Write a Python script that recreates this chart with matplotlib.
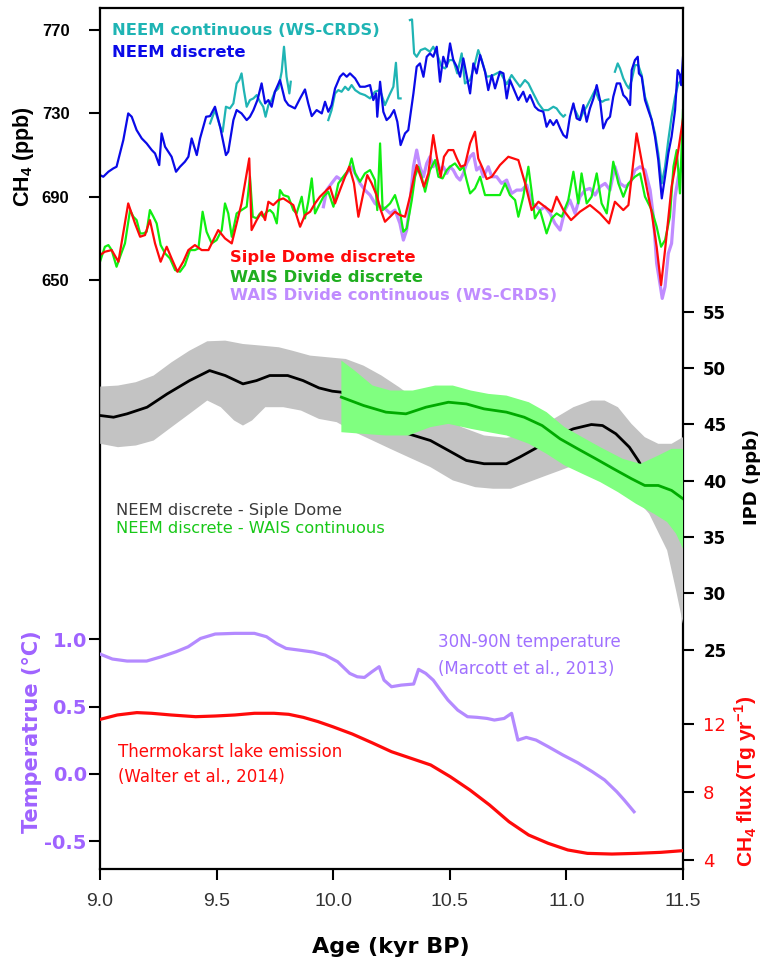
import numpy as np
import matplotlib
matplotlib.use("Agg")
import matplotlib.pyplot as plt
from matplotlib import font_manager

# fonts: a narrow bold face for the CH4 ticks if it exists
_names = {f.name for f in font_manager.fontManager.ttflist}
HAS_NARROW = "Liberation Sans Narrow" in _names
NARROW = "Liberation Sans Narrow" if HAS_NARROW else "Liberation Sans"

plt.rcParams["font.family"] = "DejaVu Sans"
plt.rcParams["mathtext.fontset"] = "custom"
plt.rcParams["mathtext.rm"] = "Liberation Sans"
plt.rcParams["mathtext.bf"] = "Liberation Sans:bold"

nan = np.nan

# ---------------- CH4 records (ppb) ----------------
neem_disc_age = [
    9.000, 9.014, 9.036, 9.057, 9.071, 9.100, 9.121, 9.136, 9.157, 9.179, 9.200, 9.222, 9.236, 9.254,
    9.264, 9.279, 9.293, 9.307, 9.326, 9.343, 9.364, 9.379, 9.393, 9.415, 9.429, 9.455, 9.472, 9.493,
    9.515, 9.540, 9.550, 9.572, 9.586, 9.607, 9.629, 9.643, 9.658, 9.675, 9.693, 9.708, 9.722, 9.736,
    9.750, 9.772, 9.793, 9.808, 9.836, 9.858, 9.879, 9.893, 9.908, 9.929, 9.951, 9.965, 9.979, 9.993,
    10.008, 10.029, 10.043, 10.058, 10.072, 10.094, 10.115, 10.136, 10.158, 10.172, 10.184, 10.189,
    10.201, 10.215, 10.229, 10.244, 10.261, 10.275, 10.289, 10.308, 10.322, 10.344, 10.358, 10.372,
    10.387, 10.401, 10.415, 10.429, 10.444, 10.458, 10.472, 10.487, 10.501, 10.515, 10.530, 10.544,
    10.558, 10.572, 10.587, 10.601, 10.615, 10.630, 10.651, 10.665, 10.680, 10.694, 10.715, 10.730,
    10.744, 10.758, 10.773, 10.794, 10.815, 10.830, 10.844, 10.865, 10.880, 10.901, 10.915, 10.930,
    10.944, 10.958, 10.973, 10.987, 11.001, 11.015, 11.030, 11.044, 11.058, 11.073, 11.087, 11.101,
    11.116, 11.130, 11.144, 11.158, 11.173, 11.187, 11.201, 11.216, 11.230, 11.244, 11.258, 11.273,
    11.280, 11.294, 11.306, 11.311, 11.323, 11.337, 11.351, 11.366, 11.380, 11.394, 11.409, 11.423,
    11.437, 11.451, 11.466, 11.477, 11.487, 11.492, 11.500,
]
neem_disc_ch4 = [
    700.4, 699.6, 702.0, 703.6, 704.4, 717.2, 730.0, 728.4, 722.0, 718.0, 715.6, 712.4, 710.8, 705.2,
    720.4, 714.0, 711.6, 709.2, 702.0, 704.4, 706.8, 709.2, 718.0, 710.0, 718.0, 728.4, 728.7, 733.2,
    723.6, 710.0, 711.6, 726.8, 731.6, 730.0, 726.8, 728.4, 731.6, 736.4, 744.4, 734.8, 736.4, 733.2,
    740.4, 746.0, 736.4, 734.0, 732.4, 737.2, 741.5, 734.8, 728.7, 731.6, 730.0, 735.6, 730.8, 734.0,
    742.0, 747.6, 749.2, 747.6, 749.2, 746.8, 742.8, 742.8, 743.6, 736.4, 739.6, 728.4,
    745.2, 730.8, 726.8, 728.4, 731.6, 726.0, 714.8, 720.4, 722.0, 739.6, 752.4, 754.0,
    747.6, 757.2, 758.8, 757.2, 762.0, 745.2, 757.2, 752.4, 763.6, 755.6, 752.4, 747.6,
    756.4, 748.4, 739.6, 754.0, 749.2, 758.0, 750.0, 741.2, 748.4, 742.0, 750.0, 749.2,
    737.2, 746.0, 742.0, 736.4, 740.4, 735.6, 738.8, 733.2, 731.6, 730.8, 723.6, 726.8,
    724.4, 726.8, 722.8, 719.6, 718.3, 728.4, 734.8, 727.6, 726.8, 734.0, 726.0, 732.4,
    737.2, 743.6, 736.4, 722.8, 726.8, 728.4, 738.0, 744.4, 744.4, 738.8, 737.2, 734.0,
    750.8, 755.6, 757.2, 749.2, 747.6, 736.4, 731.6, 726.8, 718.8, 707.6, 689.2, 699.6,
    710.8, 718.8, 731.6, 750.8, 748.4, 743.6, 757.0,
]

# continuous NEEM record, nan marks gaps in the record
neem_cont_age = [
    9.472, 9.493, 9.515, 9.526, 9.540, 9.557, 9.572, 9.586, 9.597, 9.607, 9.617, 9.629, 9.643, 9.658,
    9.672, 9.686, 9.700, 9.710, 9.722, 9.736, 9.750, 9.765, 9.779, 9.789, 9.800, 9.812, 9.818, 9.900,
    9.979, 9.993, 10.008, 10.022, 10.036, 10.051, 10.065, 10.079, 10.094, 10.115, 10.136, 10.158,
    10.179, 10.201, 10.222, 10.241, 10.258, 10.269, 10.279, 10.289, 10.310,
    10.329, 10.338, 10.347, 10.358, 10.375, 10.394, 10.415, 10.429, 10.447, 10.465, 10.480, 10.498,
    10.515, 10.532, 10.551, 10.565, 10.587, 10.608, 10.622, 10.637, 10.658, 10.680, 10.715, 10.744,
    10.765, 10.780, 10.801, 10.822, 10.837, 10.858, 10.880, 10.901, 10.922, 10.944, 10.958, 10.973,
    10.987, 10.994, 11.015,
    11.037, 11.058, 11.073, 11.087, 11.105, 11.123, 11.140, 11.154, 11.166, 11.180, 11.194,
    11.208, 11.220, 11.230, 11.244, 11.258, 11.268, 11.280, 11.294, 11.308, 11.323, 11.337, 11.351,
    11.366, 11.380, 11.394, 11.409, 11.423, 11.437, 11.451, 11.466, 11.480, 11.494, 11.500,
]
neem_cont_ch4 = [
    725.2, 731.6, 723.6, 721.2, 733.2, 732.4, 734.8, 744.4, 746.0, 749.2, 741.2, 733.2, 736.4, 737.2,
    738.8, 735.6, 733.2, 728.4, 734.0, 736.4, 740.4, 742.0, 750.0, 762.0, 747.6, 739.6, 745.2, nan,
    726.8, 731.6, 739.6, 741.2, 740.4, 742.8, 741.2, 743.6, 741.2, 739.6, 738.8, 737.2,
    740.4, 741.2, 734.0, 738.8, 742.8, 754.3, 737.2, 737.2, nan,
    774.8, 775.1, 758.8, 757.2, 760.4, 761.2, 759.6, 762.0, 758.0, 752.4, 751.6, 755.6,
    755.6, 749.2, 758.8, 744.4, 746.0, 754.0, 760.4, 755.6, 747.6, 748.0, 750.0, 744.0,
    748.4, 746.0, 742.8, 746.0, 744.4, 739.6, 734.8, 731.6, 731.6, 733.2, 732.4, 730.0,
    728.4, 729.2, nan,
    731.6, 726.8, 730.8, 733.2, 737.2, 741.2, 736.4, 735.6, 736.4, 736.7, nan,
    750.0, 754.0, 751.6, 746.8, 743.6, 742.0, 746.0, 753.2, 753.2, 748.4, 738.0, 733.2,
    726.8, 720.4, 710.8, 696.4, 704.4, 717.2, 728.4, 738.0, 744.4, 746.0, 742.8,
]

siple_age = [
    9.000, 9.021, 9.050, 9.079, 9.121, 9.150, 9.172, 9.193, 9.214, 9.236, 9.260, 9.286, 9.307, 9.332,
    9.357, 9.379, 9.407, 9.436, 9.465, 9.486, 9.507, 9.536, 9.565, 9.586, 9.607, 9.640, 9.650, 9.672,
    9.693, 9.708, 9.722, 9.743, 9.765, 9.786, 9.808, 9.829, 9.858, 9.879, 9.901, 9.922, 9.943, 9.965,
    9.986, 10.008, 10.029, 10.051, 10.069, 10.089, 10.108, 10.129, 10.146, 10.165, 10.186, 10.204,
    10.222, 10.244, 10.265, 10.286, 10.308, 10.329, 10.347, 10.358, 10.375, 10.389, 10.408, 10.429,
    10.444, 10.461, 10.475, 10.494, 10.515, 10.530, 10.547, 10.565, 10.587, 10.608, 10.622, 10.641,
    10.658, 10.680, 10.715, 10.751, 10.794, 10.823, 10.851, 10.880, 10.908, 10.937, 10.958, 10.987,
    11.020, 11.058, 11.101, 11.144, 11.183, 11.208, 11.244, 11.266, 11.301, 11.330, 11.366, 11.387,
    11.406, 11.423, 11.451, 11.480, 11.500,
]
siple_ch4 = [
    662.0, 663.6, 664.4, 658.8, 686.8, 677.2, 670.8, 671.6, 678.8, 667.6, 658.8, 666.0, 660.4, 654.0,
    658.8, 664.4, 666.8, 664.4, 664.4, 669.2, 674.0, 670.0, 667.6, 677.2, 686.8, 708.4, 674.0, 678.8,
    682.8, 678.8, 687.6, 686.0, 688.4, 689.2, 687.6, 686.0, 675.6, 681.2, 682.8, 686.8, 690.0, 692.4,
    694.8, 686.8, 693.2, 699.6, 704.4, 696.4, 680.4, 691.6, 700.4, 696.4, 690.8, 683.6,
    678.0, 680.4, 682.8, 681.2, 680.4, 690.0, 699.6, 705.2, 699.6, 694.8, 701.2, 719.6,
    709.2, 699.6, 709.2, 712.4, 712.4, 708.4, 704.4, 705.2, 715.6, 721.2, 708.4, 703.6,
    698.5, 699.6, 705.2, 709.2, 707.6, 696.4, 683.6, 687.6, 685.2, 682.8, 690.0, 683.6,
    678.8, 682.8, 686.0, 682.0, 677.2, 687.6, 683.6, 686.0, 720.4, 702.8, 682.0, 666.0,
    647.6, 664.4, 694.8, 712.4, 727.5,
]

wais_disc_age = [
    9.000, 9.021, 9.036, 9.050, 9.071, 9.086, 9.107, 9.129, 9.143, 9.157, 9.172, 9.186, 9.200, 9.214,
    9.229, 9.243, 9.260, 9.279, 9.300, 9.322, 9.343, 9.364, 9.386, 9.407, 9.422, 9.440, 9.457, 9.479,
    9.500, 9.522, 9.536, 9.550, 9.565, 9.586, 9.607, 9.629, 9.643, 9.655, 9.672, 9.686, 9.700, 9.715,
    9.729, 9.743, 9.758, 9.772, 9.786, 9.808, 9.829, 9.843, 9.865, 9.879, 9.893, 9.908, 9.922, 9.936,
    9.958, 9.979, 10.001, 10.022, 10.043, 10.065, 10.079, 10.094, 10.115, 10.136, 10.158, 10.179,
    10.189, 10.201, 10.212, 10.229, 10.244, 10.265, 10.286, 10.301, 10.315, 10.327, 10.337, 10.351,
    10.365, 10.379, 10.394, 10.415, 10.437, 10.451, 10.469, 10.487, 10.501, 10.522, 10.544, 10.558,
    10.572, 10.587, 10.608, 10.630, 10.651, 10.680, 10.715, 10.737, 10.758, 10.780, 10.794, 10.815,
    10.837, 10.851, 10.865, 10.887, 10.915, 10.937, 10.958, 10.980, 11.008, 11.030, 11.051, 11.065,
    11.087, 11.108, 11.130, 11.151, 11.173, 11.201, 11.223, 11.244, 11.266, 11.294, 11.316, 11.337,
    11.366, 11.387, 11.406, 11.423, 11.444, 11.459, 11.473, 11.487, 11.500,
]
wais_disc_ch4 = [
    658.8, 666.0, 666.8, 664.4, 656.4, 661.2, 667.6, 683.6, 680.4, 678.8, 672.4, 672.4, 673.2, 683.6,
    680.4, 677.2, 666.8, 662.8, 660.4, 654.8, 654.0, 657.2, 664.4, 664.4, 665.2, 682.8, 673.2, 667.6,
    669.2, 674.0, 686.8, 682.0, 670.8, 682.0, 683.6, 685.2, 699.6, 680.4, 679.6, 682.0, 680.4, 682.8,
    683.6, 682.0, 677.2, 693.2, 690.8, 690.0, 683.6, 682.0, 690.0, 679.6, 687.6, 698.8, 682.0, 685.2,
    690.0, 692.4, 685.2, 696.4, 699.6, 702.8, 708.4, 701.2, 697.2, 701.2, 702.8, 698.0,
    683.6, 715.6, 683.6, 685.2, 686.8, 690.8, 682.8, 673.2, 674.8, 682.0, 688.4, 699.6,
    704.4, 699.6, 692.4, 702.8, 707.6, 699.6, 698.8, 702.8, 704.4, 706.0, 702.8, 704.4,
    698.0, 691.6, 694.0, 699.6, 690.8, 690.8, 690.8, 696.4, 690.8, 688.4, 680.4, 690.0,
    704.4, 692.4, 679.6, 683.6, 672.4, 679.6, 682.0, 680.4, 688.4, 702.0, 686.8, 701.2,
    686.8, 690.0, 701.2, 686.8, 682.0, 706.8, 696.4, 690.0, 696.4, 699.6, 701.2, 690.0,
    683.6, 675.6, 666.0, 669.2, 680.4, 704.4, 712.4, 691.6, 731.6,
]

wais_cont_age = [
    9.958, 9.972, 9.993, 10.015, 10.036, 10.058, 10.079, 10.094, 10.115, 10.136, 10.158, 10.179,
    10.201, 10.222, 10.244, 10.265, 10.286, 10.301, 10.315, 10.329, 10.344, 10.358, 10.372, 10.387,
    10.401, 10.415, 10.429, 10.444, 10.458, 10.472, 10.487, 10.501, 10.515, 10.530, 10.544, 10.558,
    10.572, 10.587, 10.601, 10.615, 10.630, 10.644, 10.665, 10.680, 10.701, 10.722, 10.744, 10.765,
    10.787, 10.808, 10.830, 10.851, 10.865, 10.887, 10.908, 10.930, 10.951, 10.973, 10.994, 11.015,
    11.037, 11.058, 11.080, 11.101, 11.123, 11.144, 11.166, 11.187, 11.208, 11.230, 11.251, 11.273,
    11.294, 11.316, 11.337, 11.359, 11.373, 11.387, 11.401, 11.411, 11.423, 11.437, 11.451, 11.466,
    11.480, 11.494, 11.500,
]
wais_cont_ch4 = [
    685.2, 693.2, 696.4, 699.6, 698.0, 701.2, 704.4, 701.2, 696.4, 693.2, 690.8, 686.8,
    685.2, 684.4, 682.0, 683.6, 677.2, 669.2, 674.0, 686.8, 704.4, 712.4, 704.4, 699.6,
    706.0, 709.2, 704.4, 707.6, 702.8, 704.4, 701.2, 704.4, 702.8, 699.6, 698.0, 701.2,
    706.0, 709.2, 710.8, 702.8, 704.4, 699.6, 704.4, 699.6, 699.6, 696.4, 698.0, 691.6,
    693.2, 693.2, 695.6, 686.8, 686.0, 683.6, 685.2, 682.0, 677.2, 674.0, 683.6, 688.4,
    682.0, 690.0, 693.2, 694.0, 690.8, 694.8, 696.4, 693.2, 704.4, 696.4, 694.8, 696.4,
    702.8, 704.4, 702.8, 693.2, 680.4, 658.0, 648.4, 641.2, 646.8, 662.8, 667.6, 690.0,
    699.6, 704.4, 702.8,
]

# ---------------- IPD (ppb) ----------------
ipd_sd_age = [
    9.001, 9.058, 9.116, 9.202, 9.288, 9.384, 9.470, 9.537, 9.613, 9.671, 9.728, 9.805, 9.871, 9.939,
    9.996, 10.035, 10.10, 10.20, 10.27, 10.322, 10.417, 10.494, 10.571, 10.647, 10.743, 10.800, 10.877,
    10.95, 11.030, 11.107, 11.155, 11.212, 11.270, 11.308, 11.40, 11.50,
]
ipd_sd = [
    45.78, 45.63, 45.93, 46.52, 47.70, 48.88, 49.77, 49.33, 48.59, 48.88, 49.33, 49.33, 48.88, 48.23,
    47.94, 47.85, 47.0, 45.8, 44.8, 44.16, 43.56, 42.68, 41.79, 41.50, 41.50, 42.09, 42.97,
    43.9, 44.60, 44.98, 44.89, 44.16, 42.97, 41.79, 38.5, 35.5,
]
ipd_sd_hi_age = [
    9.001, 9.077, 9.154, 9.230, 9.307, 9.384, 9.460, 9.537, 9.613, 9.690, 9.767, 9.824, 9.901, 9.977,
    10.054, 10.130, 10.207, 10.283, 10.360, 10.456, 10.551, 10.647, 10.743, 10.839, 10.934, 11.030,
    11.107, 11.164, 11.221, 11.279, 11.336, 11.394, 11.451, 11.500,
]
ipd_sd_hi = [
    48.35, 48.44, 48.74, 49.33, 50.51, 51.54, 52.37, 52.43, 52.13, 51.99, 51.84, 51.54, 51.10, 50.95,
    50.80, 50.21, 49.33, 48.29, 47.11, 45.93, 44.75, 44.01, 43.80, 44.15, 45.34, 46.52,
    47.11, 47.11, 46.52, 45.04, 43.86, 43.27, 43.27, 43.86,
]
ipd_sd_lo_age = [
    9.001, 9.077, 9.154, 9.230, 9.307, 9.384, 9.460, 9.518, 9.575, 9.613, 9.652, 9.709, 9.786, 9.862,
    9.939, 10.015, 10.092, 10.169, 10.245, 10.322, 10.417, 10.513, 10.609, 10.685, 10.762, 10.839,
    10.915, 10.973, 11.049, 11.126, 11.202, 11.279, 11.355, 11.432, 11.470, 11.500,
]
ipd_sd_lo = [
    43.27, 42.97, 43.12, 43.56, 44.75, 45.93, 47.11, 46.52, 45.34, 44.89, 45.34, 46.52, 46.52, 46.22,
    45.48, 45.19, 44.30, 43.56, 42.82, 42.09, 41.20, 40.02, 39.42, 39.28, 39.28, 39.87,
    40.46, 40.90, 41.49, 41.49, 40.61, 38.84, 37.06, 33.81, 30.27, 27.3,
]

ipd_wais_age = [
    10.035, 10.130, 10.226, 10.312, 10.398, 10.494, 10.571, 10.647, 10.743, 10.819, 10.896, 10.973,
    11.049, 11.126, 11.202, 11.279, 11.336, 11.394, 11.451, 11.500,
]
ipd_wais = [
    47.41, 46.67, 46.08, 45.93, 46.52, 46.96, 46.81, 46.37, 46.08, 45.63, 44.89, 43.71,
    42.82, 41.94, 41.05, 40.17, 39.57, 39.57, 39.13, 38.39,
]
ipd_wais_hi_age = [
    10.035, 10.092, 10.169, 10.245, 10.341, 10.437, 10.513, 10.590, 10.666, 10.743, 10.839, 10.915,
    10.992, 11.068, 11.145, 11.241, 11.317, 11.394, 11.451, 11.500,
]
ipd_wais_hi = [
    50.66, 49.77, 48.44, 48.00, 48.00, 48.44, 48.44, 48.00, 47.70, 47.55, 46.96, 46.08,
    44.75, 43.86, 42.97, 41.94, 41.49, 42.23, 42.82, 42.82,
]
ipd_wais_lo_age = [
    10.035, 10.130, 10.226, 10.322, 10.417, 10.494, 10.590, 10.666, 10.743, 10.839, 10.915, 10.992,
    11.068, 11.145, 11.221, 11.298, 11.375, 11.432, 11.470, 11.500,
]
ipd_wais_lo = [
    44.30, 44.15, 44.01, 44.01, 44.75, 45.04, 44.60, 44.30, 44.01, 43.27, 42.38, 41.35,
    40.61, 39.87, 38.98, 37.95, 37.06, 36.32, 35.29, 33.96,
]

# ---------------- temperature and thermokarst flux ----------------
temp_age = [
    9.000, 9.053, 9.116, 9.200, 9.263, 9.326, 9.378, 9.431, 9.494, 9.578, 9.662, 9.714, 9.756, 9.798,
    9.851, 9.914, 9.966, 10.019, 10.071, 10.103, 10.134, 10.166, 10.197, 10.218, 10.250, 10.292,
    10.345, 10.366, 10.397, 10.429, 10.460, 10.492, 10.534, 10.576, 10.618, 10.660, 10.691, 10.733,
    10.765, 10.792, 10.828, 10.870, 10.922, 10.985, 11.048, 11.111, 11.164, 11.216, 11.248, 11.290,
]
temp_c = [
    0.891, 0.854, 0.839, 0.839, 0.871, 0.908, 0.945, 1.007, 1.040, 1.045, 1.045, 1.020, 0.970, 0.933,
    0.921, 0.906, 0.883, 0.834, 0.747, 0.722, 0.717, 0.759, 0.797, 0.697, 0.648, 0.660,
    0.668, 0.777, 0.747, 0.697, 0.623, 0.549, 0.474, 0.425, 0.420, 0.412, 0.400, 0.412,
    0.450, 0.251, 0.271, 0.251, 0.202, 0.140, 0.083, 0.016, -0.046, -0.133, -0.195, -0.282,
]
flux_age = [
    9.000, 9.074, 9.158, 9.221, 9.305, 9.410, 9.494, 9.578, 9.662, 9.746, 9.809, 9.872, 9.935, 9.998,
    10.082, 10.166, 10.250, 10.334, 10.418, 10.502, 10.586, 10.670, 10.754, 10.838, 10.922, 11.006,
    11.090, 11.195, 11.300, 11.405, 11.500,
]
flux_tg = [
    12.27, 12.53, 12.67, 12.63, 12.53, 12.43, 12.47, 12.53, 12.63, 12.63, 12.57, 12.39, 12.14, 11.84,
    11.41, 10.90, 10.37, 9.98, 9.59, 8.90, 8.12, 7.24, 6.25, 5.47, 4.98, 4.59,
    4.39, 4.35, 4.39, 4.45, 4.55,
]

CH4_TICKS = [650, 690, 730, 770]
IPD_TICKS = [25, 30, 35, 40, 45, 50, 55]
TEMP_TICKS = [-0.5, 0.0, 0.5, 1.0]
FLUX_TICKS = [4, 8, 12]
AGE_TICKS = [9.0, 9.5, 10.0, 10.5, 11.0, 11.5]

CYAN = "#1fb4b4"
BLUE = "#0a0ae8"
RED = "#ff0a0a"
LIME = "#10ee10"
LAV = "#c08cff"
PURPLE_TXT = "#9f63ff"

W, H = 769, 961
fig = plt.figure(figsize=(W / 100, H / 100), dpi=100)
L, R, T, B = 100, 683, 8, 869
ax = fig.add_axes([L / W, 1 - B / H, (R - L) / W, (B - T) / H])
ax_ipd = ax.twinx()
ax_temp = ax.twinx()
ax_flux = ax.twinx()

for a in (ax_ipd, ax_temp, ax_flux):
    for s in a.spines.values():
        s.set_visible(False)
for s in ax.spines.values():
    s.set_linewidth(1.6)

ax.set_xlim(9.0, 11.5)
ax.set_ylim(367.3, 780.6)
ax_ipd.set_ylim(5.52, 81.96)
ax_temp.set_ylim(-0.708, 5.697)
ax_flux.set_ylim(3.47, 54.12)

# --- top panel ---
ax.plot(wais_cont_age, wais_cont_ch4, color=LAV, lw=2.3, solid_joinstyle="round")
ax.plot(wais_disc_age, wais_disc_ch4, color=LIME, lw=1.6)
ax.plot(siple_age, siple_ch4, color=RED, lw=1.6)
ax.plot(neem_cont_age, neem_cont_ch4, color=CYAN, lw=1.6)
ax.plot(neem_disc_age, neem_disc_ch4, color=BLUE, lw=1.6)

# --- middle panel (explicit z-order so the green band covers the black curve) ---
ax_ipd.fill(np.concatenate([ipd_sd_hi_age, ipd_sd_lo_age[::-1]]),
            np.concatenate([ipd_sd_hi, ipd_sd_lo[::-1]]), color="#c3c3c3", lw=0, zorder=1)
ax_ipd.plot(ipd_sd_age, ipd_sd, color="black", lw=2.0, zorder=2)
ax_ipd.fill(np.concatenate([ipd_wais_hi_age, ipd_wais_lo_age[::-1]]),
            np.concatenate([ipd_wais_hi, ipd_wais_lo[::-1]]), color="#80ff80", lw=0, zorder=3)
ax_ipd.plot(ipd_wais_age, ipd_wais, color="#00aa00", lw=2.0, zorder=4)

# --- bottom panel ---
ax_temp.plot(temp_age, temp_c, color="#b48aff", lw=2.3)
ax_flux.plot(flux_age, flux_tg, color=RED, lw=2.3)

# ticks
tick_kw = dict(direction="out", length=8, width=1.5)
ax.set_xticks(AGE_TICKS)
ax.set_xticklabels([f"{v:.1f}" for v in AGE_TICKS])
ax.tick_params(axis="x", pad=9, labelsize=14, labelcolor="#333333", **tick_kw)
for lab in ax.get_xticklabels():
    lab.set_fontfamily("Liberation Sans")

ax.set_yticks(CH4_TICKS)
ax.tick_params(axis="y", left=True, right=False, pad=14, labelsize=14 if HAS_NARROW else 12, **tick_kw)
for lab in ax.get_yticklabels():
    lab.set_fontfamily(NARROW)
    lab.set_fontweight("bold")

ax_ipd.set_yticks(IPD_TICKS)
ax_ipd.tick_params(axis="y", right=True, left=False, labelright=True, labelleft=False,
                   pad=6.5, labelsize=12, **tick_kw)
for lab in ax_ipd.get_yticklabels():
    lab.set_fontweight("bold")

ax_temp.yaxis.tick_left()
ax_temp.set_yticks(TEMP_TICKS)
ax_temp.set_yticklabels([f"{v:.1f}" for v in TEMP_TICKS])
ax_temp.tick_params(axis="y", left=True, right=False, labelleft=True, labelright=False,
                    pad=1.5, labelsize=14, labelcolor=PURPLE_TXT, **tick_kw)
for lab in ax_temp.get_yticklabels():
    lab.set_fontweight("bold")

ax_flux.set_yticks(FLUX_TICKS)
ax_flux.tick_params(axis="y", right=True, left=False, labelright=True, labelleft=False,
                    pad=6.5, labelsize=13, labelcolor=RED, **tick_kw)

# axis titles
def fx(x):
    return x / W

def fy(y):
    return 1 - y / H

fig.text(fx(24), fy(157), r"CH$_\mathbf{4}$ (ppb)", rotation=90, ha="center", va="center",
         fontsize=15.5, fontweight="bold", family="Liberation Sans")
fig.text(fx(32), fy(732), "Temperatrue (°C)", rotation=90, ha="center", va="center",
         fontsize=15, fontweight="bold", color=PURPLE_TXT)
fig.text(fx(752), fy(477), "IPD (ppb)", rotation=90, ha="center", va="center",
         fontsize=13, fontweight="bold")
fig.text(fx(746), fy(781), r"CH$_\mathbf{4}$ flux (Tg yr$^\mathbf{-1}$)", rotation=90,
         ha="center", va="center", fontsize=15, fontweight="bold", color=RED,
         family="Liberation Sans")
fig.text(fx(391), fy(953), "Age (kyr BP)", ha="center", va="baseline",
         fontsize=16, fontweight="bold")

# in-panel labels
def label(x, y, s, color, size, bold=True):
    fig.text(fx(x), fy(y), s, color=color, fontsize=size, va="baseline", ha="left",
             fontweight="bold" if bold else "normal")

label(112, 35, "NEEM continuous (WS-CRDS)", CYAN, 11.8)
label(112, 57, "NEEM discrete", BLUE, 11.8)
label(230, 262, "Siple Dome discrete", RED, 11.8)
label(230, 282, "WAIS Divide discrete", "#1fae1f", 11.8)
label(230, 300, "WAIS Divide continuous (WS-CRDS)", LAV, 11.8)
label(116, 515, "NEEM discrete - Siple Dome", "#3a3a3a", 11.7, bold=False)
label(116, 533, "NEEM discrete - WAIS continuous", "#18c818", 11.7, bold=False)
label(438, 647, "30N-90N temperature", "#a070ff", 12, bold=False)
label(438, 674, "(Marcott et al., 2013)", "#a070ff", 12, bold=False)
label(118, 757, "Thermokarst lake emission", RED, 12, bold=False)
label(118, 782, "(Walter et al., 2014)", RED, 12, bold=False)

fig.savefig("out.png", dpi=100)
